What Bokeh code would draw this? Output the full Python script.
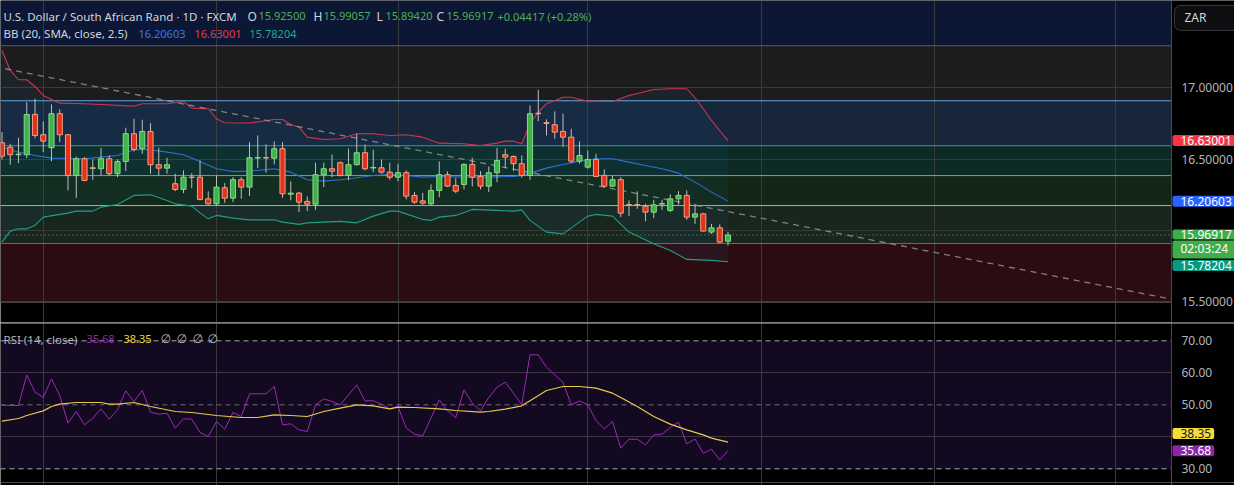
from bokeh.plotting import figure
from bokeh.layouts import column
from bokeh.models import (Range1d, FixedTicker, Grid, Label, Span, BoxAnnotation,
                          ColumnDataSource)
from bokeh.embed import file_html
from bokeh.resources import INLINE

# ---------------- data ----------------
bar_index = list(range(89))
opens = [16.615, 16.584, 16.531, 16.531, 16.813, 16.671, 16.580, 16.818, 16.671, 16.386,
         16.503, 16.440, 16.433, 16.503, 16.398, 16.484, 16.678, 16.573, 16.694, 16.461,
         16.437, 16.328, 16.288, 16.374, 16.374, 16.222, 16.187, 16.300, 16.227, 16.356,
         16.304, 16.508, 16.511, 16.507, 16.573, 16.255, 16.262, 16.204, 16.185, 16.391,
         16.433, 16.475, 16.386, 16.461, 16.545, 16.438, 16.440, 16.409, 16.374, 16.405,
         16.246, 16.208, 16.187, 16.281, 16.391, 16.316, 16.323, 16.463, 16.379, 16.311,
         16.405, 16.531, 16.519, 16.468, 16.386, 16.822, 16.755, 16.741, 16.694, 16.654,
         16.486, 16.444, 16.498, 16.386, 16.311, 16.356, 16.182, 16.181, 16.171, 16.129,
         16.186, 16.141, 16.222, 16.246, 16.094, 16.117, 15.989, 16.019, 15.925]
highs = [16.689, 16.608, 16.650, 16.899, 16.923, 16.764, 16.883, 16.848, 16.673, 16.519,
         16.514, 16.498, 16.580, 16.526, 16.498, 16.720, 16.783, 16.776, 16.752, 16.580,
         16.510, 16.398, 16.421, 16.402, 16.491, 16.274, 16.386, 16.332, 16.374, 16.374,
         16.619, 16.666, 16.603, 16.624, 16.619, 16.344, 16.269, 16.239, 16.475, 16.475,
         16.533, 16.484, 16.573, 16.678, 16.603, 16.566, 16.498, 16.475, 16.468, 16.421,
         16.269, 16.264, 16.323, 16.484, 16.414, 16.367, 16.472, 16.510, 16.416, 16.449,
         16.580, 16.573, 16.526, 16.526, 16.876, 16.986, 16.778, 16.834, 16.818, 16.713,
         16.624, 16.561, 16.538, 16.428, 16.386, 16.374, 16.211, 16.274, 16.187, 16.215,
         16.215, 16.253, 16.276, 16.281, 16.187, 16.124, 16.047, 16.043, 15.99057]
lows = [16.498, 16.461, 16.472, 16.507, 16.647, 16.549, 16.486, 16.619, 16.281, 16.229,
        16.346, 16.356, 16.386, 16.386, 16.374, 16.416, 16.554, 16.538, 16.398, 16.386,
        16.398, 16.276, 16.262, 16.297, 16.211, 16.180, 16.176, 16.194, 16.199, 16.222,
        16.241, 16.437, 16.405, 16.463, 16.229, 16.211, 16.129, 16.136, 16.145, 16.304,
        16.374, 16.379, 16.351, 16.456, 16.421, 16.409, 16.398, 16.356, 16.346, 16.218,
        16.187, 16.180, 16.176, 16.234, 16.304, 16.262, 16.288, 16.309, 16.288, 16.269,
        16.339, 16.437, 16.416, 16.370, 16.356, 16.766, 16.666, 16.643, 16.584, 16.472,
        16.468, 16.433, 16.374, 16.300, 16.304, 16.094, 16.101, 16.152, 16.066, 16.087,
        16.145, 16.129, 16.183, 16.075, 16.047, 15.994, 15.977, 15.912, 15.8942]
closes = [16.521, 16.531, 16.535, 16.813, 16.666, 16.626, 16.818, 16.671, 16.386, 16.503,
          16.351, 16.435, 16.503, 16.398, 16.484, 16.678, 16.568, 16.694, 16.461, 16.437,
          16.461, 16.288, 16.374, 16.372, 16.218, 16.187, 16.304, 16.227, 16.356, 16.304,
          16.510, 16.511, 16.508, 16.573, 16.257, 16.262, 16.199, 16.185, 16.391, 16.433,
          16.416, 16.386, 16.461, 16.545, 16.433, 16.442, 16.409, 16.374, 16.405, 16.241,
          16.199, 16.192, 16.281, 16.391, 16.311, 16.276, 16.463, 16.374, 16.311, 16.405,
          16.491, 16.514, 16.468, 16.386, 16.818, 16.818, 16.750, 16.689, 16.654, 16.486,
          16.526, 16.498, 16.379, 16.311, 16.356, 16.122, 16.180, 16.180, 16.129, 16.180,
          16.189, 16.222, 16.246, 16.094, 16.117, 15.996, 16.019, 15.919, 15.96917]

bb_upper_idx = [0, 1, 2, 3, 4, 5, 7, 10, 16, 17, 20, 22, 23, 25, 26, 27, 30, 33, 34, 35,
                36, 37, 39, 41, 43, 45, 47, 49, 51, 53, 56, 58, 60, 61, 62, 63, 64, 65, 66, 68,
                69, 71, 74, 76, 79, 81, 83, 84, 85, 86, 87, 88]
bb_upper = [17.261, 17.121, 17.056, 17.056, 17.009, 16.946, 16.892, 16.888, 16.871, 16.888,
            16.888, 16.904, 16.857, 16.853, 16.783, 16.755, 16.753, 16.778, 16.778, 16.743,
            16.724, 16.654, 16.638, 16.643, 16.678, 16.678, 16.666, 16.671, 16.654, 16.612,
            16.608, 16.596, 16.612, 16.626, 16.626, 16.608, 16.748, 16.829, 16.888, 16.934,
            16.934, 16.906, 16.904, 16.946, 16.988, 16.993, 16.993, 16.930, 16.853, 16.771,
            16.699, 16.63001]
bb_mid_idx = [0, 2, 4, 6, 10, 12, 14, 16, 18, 20, 22, 24, 26, 28, 30, 33, 35, 37, 39, 41,
              43, 45, 47, 49, 51, 53, 56, 59, 62, 63, 64, 66, 68, 70, 72, 74, 76, 78, 80, 82,
              84, 86, 88]
bb_mid = [16.584, 16.549, 16.526, 16.507, 16.503, 16.514, 16.526, 16.566, 16.566, 16.549,
          16.531, 16.484, 16.433, 16.414, 16.416, 16.433, 16.409, 16.356, 16.346, 16.356,
          16.370, 16.386, 16.393, 16.386, 16.374, 16.379, 16.374, 16.374, 16.379, 16.386,
          16.402, 16.437, 16.463, 16.486, 16.503, 16.503, 16.479, 16.456, 16.433, 16.402,
          16.339, 16.269, 16.20603]
bb_low_idx = [0, 1, 2, 3, 4, 5, 7, 8, 9, 11, 12, 14, 16, 18, 20, 21, 23, 24, 25, 26,
              28, 30, 33, 34, 36, 37, 41, 43, 45, 47, 48, 51, 52, 53, 55, 57, 60, 62, 63, 64,
              66, 68, 71, 72, 74, 76, 79, 81, 83, 86, 88]
bb_low = [15.919, 15.996, 16.012, 16.012, 16.036, 16.094, 16.113, 16.122, 16.136, 16.136,
          16.164, 16.183, 16.246, 16.250, 16.211, 16.187, 16.171, 16.124, 16.082, 16.106,
          16.087, 16.075, 16.075, 16.059, 16.043, 16.054, 16.064, 16.054, 16.101, 16.136,
          16.136, 16.078, 16.071, 16.094, 16.106, 16.148, 16.141, 16.136, 16.145, 16.071,
          15.989, 15.977, 16.101, 16.113, 16.101, 15.989, 15.907, 15.861, 15.798, 15.791,
          15.78204]

rsi = [49.88, 49.78, 49.78, 59.36, 53.95, 52.28, 58.11, 52.91, 44.26, 47.90,
       43.74, 45.82, 48.74, 45.51, 48.43, 54.36, 51.03, 54.47, 47.70, 47.07,
       47.38, 42.70, 45.61, 45.51, 41.34, 40.09, 44.78, 42.38, 47.59, 46.34,
       53.43, 53.43, 53.43, 55.72, 43.74, 44.05, 42.18, 41.65, 49.99, 51.86,
       51.03, 49.99, 53.11, 56.24, 51.24, 51.24, 50.20, 48.74, 49.47, 42.70,
       40.82, 40.30, 45.82, 51.55, 48.11, 46.03, 54.68, 50.51, 48.11, 52.28,
       55.51, 57.07, 53.63, 49.99, 65.61, 65.61, 61.76, 59.36, 57.07, 49.99,
       51.24, 49.99, 45.09, 42.49, 44.78, 36.45, 39.26, 39.26, 37.49, 40.61,
       40.82, 42.90, 44.57, 37.80, 39.36, 34.88, 36.13, 32.80, 35.68]
rsi_ma_idx = [0, 2, 3, 5, 6, 7, 9, 12, 13, 14, 16, 18, 21, 23, 26, 29, 31, 33, 35, 37,
              39, 41, 43, 45, 47, 48, 50, 53, 55, 58, 59, 61, 63, 64, 66, 68, 70, 72, 74, 75,
              77, 79, 81, 83, 85, 86, 88]
rsi_ma = [44.90, 45.72, 46.65, 48.11, 49.47, 50.20, 50.72, 50.72, 50.20, 50.20,
          50.72, 49.47, 47.90, 47.59, 46.65, 46.03, 46.03, 46.86, 46.65, 46.34,
          47.90, 48.95, 49.99, 49.68, 48.74, 49.26, 49.16, 48.74, 48.22, 47.70,
          47.90, 48.63, 49.68, 51.24, 54.47, 55.72, 55.72, 55.20, 53.63, 52.28,
          49.47, 46.34, 43.95, 42.18, 40.61, 39.57, 38.35]

trend_x = [0.4, 143.7]
trend_y = [17.133, 15.497]
zone_levels = [17.294, 16.909, 16.594, 16.385, 16.175, 15.909, 15.497]
month_idx = [5, 26, 48, 71, 92, 113, 135]
price_ticks = [15.5, 16.5, 17.0]
price_grid = [15.5, 16.0, 16.5, 17.0]
rsi_ticks = [30, 50, 60, 70]
rsi_grid = [40, 60]
rsi_bands = [30, 50, 70]

# ---------------- styles / layout ----------------
FONT = "Noto Sans"
BG = "#000000"
TXT = "#d1d4dc"
AX = "#b2b5be"
GREEN = "#4caf50"
zone_fills = ["#0c1736", "#1c1c1f", "#17263a", "#0e2a25", "#132716", "#19261d", "#2b0c11"]
zone_lines = ["#5d5f66", "#6fa8dc", "#2aa595", "#5fba62", "#8cca7a", "#e53935", "#4a4a4a"]

W = 1234
AXW = 63
px_per_bar = 8.25
x_start = -1.5 / px_per_bar
x_max = x_start + W / px_per_bar
x_sep = x_start + (W - AXW) / px_per_bar
xr = Range1d(x_start, x_max)


def xpx(px):
    return x_start + px / px_per_bar


price_top = 17.611
price_px = 142.8
price_h = 322
price_bottom = price_top - price_h / price_px

rsi_top = 75.72
rsi_px = 3.2
rsi_h = 163
rsi_bottom = rsi_top - rsi_h / rsi_px


def base_fig(height, yr):
    f = figure(width=W, height=height, x_range=xr, y_range=yr, output_backend="svg",
               toolbar_location=None, y_axis_location=None, x_axis_location=None,
               min_border_left=0, min_border_right=0, min_border_top=0, min_border_bottom=0,
               background_fill_color=BG, border_fill_color=BG, outline_line_color=None)
    f.grid.visible = False
    return f


def label(f, x, y, text, color, size="12px", font=FONT, **kw):
    f.add_layout(Label(x=x, y=y, text=text, text_color=color, text_font=font,
                       text_font_size=size, text_baseline="middle", **kw))


def axis_panel(f, ticks, fmt):
    # price-scale strip on the right: black panel, separator and tick labels
    f.add_layout(BoxAnnotation(left=x_sep, fill_color=BG, fill_alpha=1, line_color=None))
    f.add_layout(Span(location=x_sep, dimension="height", line_color="#4a4a4a", line_width=1))
    for t in ticks:
        label(f, x_sep + 10 / px_per_bar, t, fmt.format(t), AX)


# ---------------- price pane ----------------
p = base_fig(price_h, Range1d(price_bottom, price_top))

p.add_layout(BoxAnnotation(bottom=zone_levels[0], right=x_sep, fill_color=zone_fills[0],
                           fill_alpha=1, line_color=None, level="underlay"))
for k in range(len(zone_levels) - 1):
    p.add_layout(BoxAnnotation(bottom=zone_levels[k + 1], top=zone_levels[k], right=x_sep,
                               fill_color=zone_fills[k + 1], fill_alpha=1, line_color=None,
                               level="underlay"))
p.add_layout(Grid(dimension=0, ticker=FixedTicker(ticks=month_idx),
                  grid_line_color="#3a3a3c", level="underlay"))
p.add_layout(Grid(dimension=1, ticker=FixedTicker(ticks=price_grid),
                  grid_line_color="#3a3a3c", level="underlay"))
for lvl, col in zip(zone_levels, zone_lines):
    p.add_layout(Span(location=lvl, dimension="width", line_color=col, line_width=1,
                      level="underlay"))
p.add_layout(Span(location=closes[-1], dimension="width", line_color="#6fbf73",
                  line_dash="1 3", line_alpha=0.8, line_width=1, level="underlay"))

# Bollinger band fill and lines
p.patch(bb_upper_idx + bb_low_idx[::-1], bb_upper + bb_low[::-1],
        fill_color="#2196f3", fill_alpha=0.06, line_color=None)
p.line(bb_upper_idx, bb_upper, line_color="#cf344c", line_width=1.1)
p.line(bb_mid_idx, bb_mid, line_color="#2e6fd8", line_width=1.1)
p.line(bb_low_idx, bb_low, line_color="#1f9e84", line_width=1.1)

# trend line
p.line(trend_x, trend_y, line_color="#9a9a9a", line_dash="6 5", line_width=1.3, line_alpha=0.8)

# candles
inc = [c >= o for o, c in zip(opens, closes)]
src = ColumnDataSource(dict(
    x=bar_index, h=highs, l=lows,
    top=[max(o, c) for o, c in zip(opens, closes)],
    bottom=[min(o, c) for o, c in zip(opens, closes)],
    fill=["#3fb34a" if u else "#e2321f" for u in inc],
    edge=["#86d98a" if u else "#f4a07e" for u in inc],
))
p.segment("x", "h", "x", "l", source=src, line_color="#bdbdbd", line_width=1)
p.vbar(x="x", top="top", bottom="bottom", width=0.62, fill_color="fill",
       line_color="edge", line_width=1, source=src)

# header texts
y1 = 17.4993
y2 = 17.378
label(p, xpx(3), y1, "U.S. Dollar / South African Rand · 1D · FXCM", TXT, "11.5px")
label(p, xpx(247), y1, "O", TXT)
label(p, xpx(258), y1, "15.92500", GREEN, "11px")
label(p, xpx(313), y1, "H", TXT)
label(p, xpx(323), y1, "15.99057", GREEN, "11px")
label(p, xpx(376), y1, "L", TXT)
label(p, xpx(385), y1, "15.89420", GREEN, "11px")
label(p, xpx(436), y1, "C", TXT)
label(p, xpx(446), y1, "15.96917", GREEN, "11px")
label(p, xpx(497), y1, "+0.04417 (+0.28%)", GREEN, "11px")
label(p, xpx(3), y2, "BB (20, SMA, close, 2.5)", TXT, "11.5px")
label(p, xpx(138), y2, "16.20603", "#3d74ee", "11px")
label(p, xpx(194), y2, "16.63001", "#e23c52", "11px")
label(p, xpx(249), y2, "15.78204", "#1fa88d", "11px")

# right price scale
axis_panel(p, price_ticks, "{:.5f}")
ax_x = x_sep + 1 / px_per_bar
pad = dict(left=8, right=18, top=1, bottom=1)
label(p, x_sep + 3 / px_per_bar, 17.489, "ZAR", TXT, background_fill_color="#0e0e10",
      border_line_color="#3a3a3e", border_radius=6,
      padding=dict(left=10, right=34, top=4, bottom=4))
label(p, ax_x, bb_upper[-1], "16.63001", "#ffffff", background_fill_color="#f23645",
      border_radius=2, padding=pad)
label(p, ax_x, bb_mid[-1], "16.20603", "#ffffff", background_fill_color="#2962ff",
      border_radius=2, padding=pad)
label(p, ax_x, 15.973, "15.96917", "#ffffff", background_fill_color="#3fae49",
      border_radius=2, padding=dict(left=8, right=18, top=1, bottom=0))
label(p, ax_x, 15.868, "02:03:24", "#ffffff", background_fill_color="#3fae49",
      border_radius=2, padding=dict(left=8, right=18, top=0, bottom=1))
label(p, ax_x, 15.756, "15.78204", "#ffffff", background_fill_color="#089981",
      border_radius=2, padding=pad)

# ---------------- RSI pane ----------------
r = base_fig(rsi_h, Range1d(rsi_bottom, rsi_top))

r.add_layout(BoxAnnotation(bottom=rsi_bands[0], top=rsi_bands[2], fill_color="#130a22",
                           fill_alpha=1, line_color=None, level="underlay"))
r.add_layout(Grid(dimension=0, ticker=FixedTicker(ticks=month_idx),
                  grid_line_color="#3b3745", level="underlay"))
r.add_layout(Grid(dimension=1, ticker=FixedTicker(ticks=rsi_grid),
                  grid_line_color="#3b3745", level="underlay"))
for lvl in (rsi_bands[0], rsi_bands[2]):
    r.add_layout(Span(location=lvl, dimension="width", line_color="#a6a9b0",
                      line_dash="5 4", line_width=1, level="underlay"))
r.add_layout(Span(location=rsi_bands[1], dimension="width", line_color="#6e6a78",
                  line_dash="5 4", line_width=1, level="underlay"))

r.line(bar_index, rsi, line_color="#9c2bb5", line_width=1)
r.line(rsi_ma_idx, rsi_ma, line_color="#e8c84a", line_width=1.2)

yr_ = 70.56
label(r, xpx(3), yr_, "RSI (14, close)", AX, "11.5px")
label(r, xpx(86), yr_, "35.68", "#8a2ba6", "11px")
label(r, xpx(123), yr_, "38.35", "#f0d43a", "11px")
for xp in (160, 176, 192, 207):
    label(r, xpx(xp), yr_, "∅", AX, "12px", font="DejaVu Sans")

axis_panel(r, rsi_ticks, "{:.2f}")
r.add_layout(Span(location=75.5, dimension="width", line_color="#8a8c92", line_width=1))
r.add_layout(Span(location=25.72, dimension="width", line_color="#4a4a4a", line_width=1))
label(r, ax_x, 41.0, "38.35", "#131722", background_fill_color="#f5dc3c",
      border_radius=2, padding=dict(left=8, right=3, top=1, bottom=1))
label(r, ax_x, rsi[-1], "35.68", "#ffffff", background_fill_color="#8e24aa",
      border_radius=2, padding=dict(left=8, right=3, top=1, bottom=1))

layout = column(p, r, spacing=0)
open("out.html", "w").write(file_html(layout, INLINE))
